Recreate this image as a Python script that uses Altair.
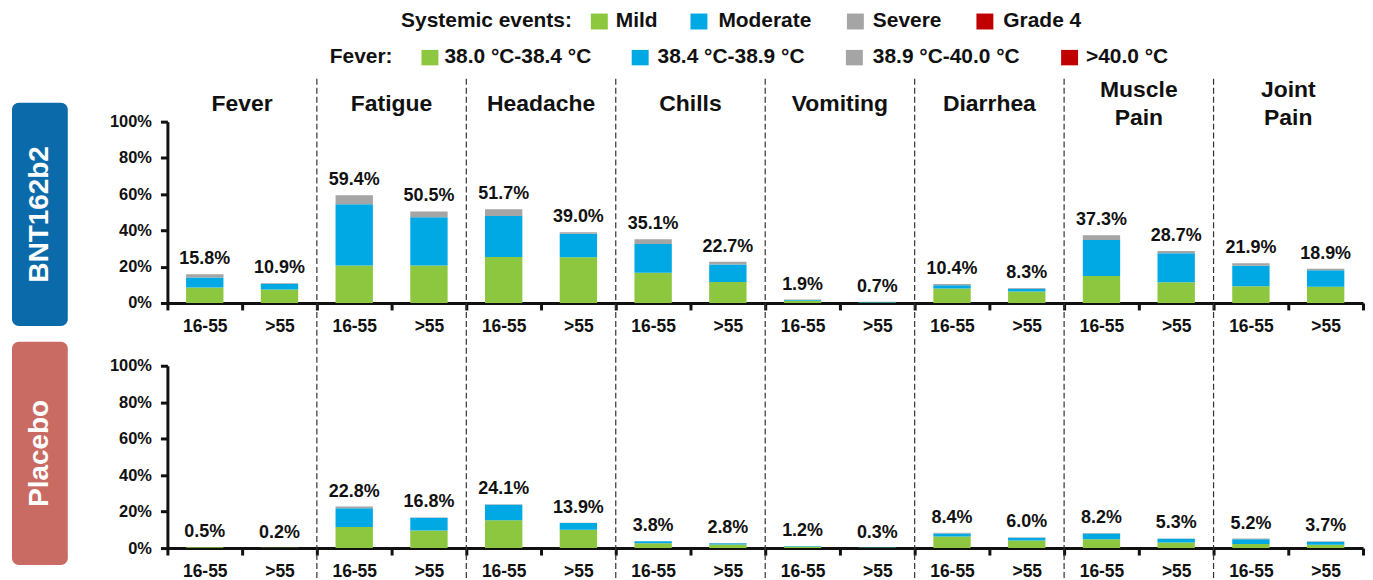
import altair as alt
import pandas as pd

FONT = "Liberation Sans, Arial, Helvetica, sans-serif"

categories = ["Fever", "Fatigue", "Headache", "Chills", "Vomiting", "Diarrhea", "Muscle Pain", "Joint Pain"]
header_text = ["Fever", "Fatigue", "Headache", "Chills", "Vomiting", "Diarrhea", "Muscle\nPain", "Joint\nPain"]
age_groups = ["16-55", ">55"]
severity_levels = ["Mild", "Moderate", "Severe", "Grade 4"]
fever_ranges = ["38.0 °C-38.4 °C", "38.4 °C-38.9 °C", "38.9 °C-40.0 °C", ">40.0 °C"]
severity_colors = ["#8DC63F", "#00A9E4", "#A5A5A5", "#C00000"]
groups = ["BNT162b2", "Placebo"]
group_colors = ["#0B6BAA", "#C96A63"]

# BNT162b2, age 16-55 (percent)
bnt_1655_mild = [8.6, 20.7, 25.3, 16.6, 1.2, 8.0, 14.9, 9.2]
bnt_1655_moderate = [5.4, 33.7, 22.6, 15.9, 0.5, 1.8, 19.8, 11.3]
bnt_1655_severe = [1.8, 5.0, 3.8, 2.6, 0.2, 0.6, 2.6, 1.4]
bnt_1655_grade4 = [0.0, 0.0, 0.0, 0.0, 0.0, 0.0, 0.0, 0.0]
bnt_1655_total = [15.8, 59.4, 51.7, 35.1, 1.9, 10.4, 37.3, 21.9]
# BNT162b2, age >55
bnt_55_mild = [7.4, 20.7, 25.2, 11.6, 0.3, 6.3, 11.4, 8.9]
bnt_55_moderate = [3.1, 26.6, 13.0, 9.6, 0.3, 1.6, 16.0, 9.1]
bnt_55_severe = [0.4, 3.2, 0.8, 1.5, 0.1, 0.4, 1.3, 0.9]
bnt_55_grade4 = [0.0, 0.0, 0.0, 0.0, 0.0, 0.0, 0.0, 0.0]
bnt_55_total = [10.9, 50.5, 39.0, 22.7, 0.7, 8.3, 28.7, 18.9]
# Placebo, age 16-55
pla_1655_mild = [0.4, 11.5, 15.3, 2.6, 0.9, 6.4, 4.9, 2.2]
pla_1655_moderate = [0.1, 10.4, 8.4, 1.1, 0.3, 1.6, 3.1, 2.6]
pla_1655_severe = [0.0, 0.9, 0.4, 0.1, 0.0, 0.4, 0.2, 0.4]
pla_1655_grade4 = [0.0, 0.0, 0.0, 0.0, 0.0, 0.0, 0.0, 0.0]
pla_1655_total = [0.5, 22.8, 24.1, 3.8, 1.2, 8.4, 8.2, 5.2]
# Placebo, age >55
pla_55_mild = [0.2, 9.6, 10.0, 1.9, 0.2, 4.1, 3.1, 1.8]
pla_55_moderate = [0.0, 7.0, 3.7, 0.8, 0.1, 1.5, 2.0, 1.6]
pla_55_severe = [0.0, 0.2, 0.2, 0.1, 0.0, 0.4, 0.2, 0.3]
pla_55_grade4 = [0.0, 0.0, 0.0, 0.0, 0.0, 0.0, 0.0, 0.0]
pla_55_total = [0.2, 16.8, 13.9, 2.8, 0.3, 6.0, 5.3, 3.7]

series = {
    "BNT162b2": {
        "16-55": ([bnt_1655_mild, bnt_1655_moderate, bnt_1655_severe, bnt_1655_grade4], bnt_1655_total),
        ">55": ([bnt_55_mild, bnt_55_moderate, bnt_55_severe, bnt_55_grade4], bnt_55_total),
    },
    "Placebo": {
        "16-55": ([pla_1655_mild, pla_1655_moderate, pla_1655_severe, pla_1655_grade4], pla_1655_total),
        ">55": ([pla_55_mild, pla_55_moderate, pla_55_severe, pla_55_grade4], pla_55_total),
    },
}

slots = [f"{c}|{a}" for c in categories for a in age_groups]

PLOT_W = 1200
BLACK = "#111111"


def bars_df(group):
    rows = []
    for age in age_groups:
        sev_lists, _ = series[group][age]
        for si, sev in enumerate(severity_levels):
            for ci, cat in enumerate(categories):
                rows.append({"slot": f"{cat}|{age}", "severity": sev, "sev_idx": si,
                             "value": sev_lists[si][ci]})
    return pd.DataFrame(rows)


def totals_df(group):
    rows = []
    for age in age_groups:
        _, tot = series[group][age]
        for ci, cat in enumerate(categories):
            rows.append({"slot": f"{cat}|{age}", "total": tot[ci], "label": f"{tot[ci]:.1f}%"})
    return pd.DataFrame(rows)


xscale = alt.Scale(domain=slots, paddingInner=0, paddingOuter=0)
xaxis = alt.Axis(title=None, labelExpr="split(datum.label, '|')[1]", labelAngle=0,
                 tickBand="extent", tickSize=7, tickWidth=3, tickColor=BLACK,
                 domainWidth=3, domainColor=BLACK, labelFontSize=17.5, labelFontWeight="bold",
                 labelColor=BLACK, labelPadding=8, labelFont=FONT)
yscale = alt.Scale(domain=[0, 100], nice=False)
yaxis = alt.Axis(title=None, values=[0, 20, 40, 60, 80, 100], labelExpr="datum.value + '%'",
                 tickSize=7, tickWidth=3, tickColor=BLACK, domainWidth=3, domainColor=BLACK,
                 labelFontSize=16.5, labelFontWeight="bold", labelColor=BLACK, labelPadding=9,
                 labelFont=FONT, grid=False)


def panel(gi, height, rule_top, rule_bottom, box_top, box_bottom, top_panel):
    group = groups[gi]
    layers = []
    bars = alt.Chart(bars_df(group)).mark_bar(width=alt.RelativeBandSize(0.5)).encode(
        x=alt.X("slot:N", scale=xscale, axis=xaxis),
        y=alt.Y("value:Q", stack="zero", scale=yscale, axis=yaxis),
        color=alt.Color("severity:N", scale=alt.Scale(domain=severity_levels, range=severity_colors),
                        legend=None),
        order=alt.Order("sev_idx:Q", sort="ascending"),
    )
    layers.append(bars)
    labels = alt.Chart(totals_df(group)).mark_text(
        dy=-10, baseline="alphabetic", fontSize=18, fontWeight="bold", font=FONT, color=BLACK
    ).encode(
        x=alt.X("slot:N", scale=xscale, axis=xaxis),
        y=alt.Y("total:Q", scale=yscale, axis=yaxis),
        text="label:N",
    )
    layers.append(labels)
    sep = pd.DataFrame({"slot": [f"{c}|{age_groups[0]}" for c in categories[1:]]})
    rules = alt.Chart(sep).mark_rule(strokeDash=[6, 3], strokeWidth=1.2, color="#333333").encode(
        x=alt.X("slot:N", scale=xscale, axis=xaxis, bandPosition=0),
        y=alt.value(rule_top), y2=alt.value(rule_bottom),
    )
    layers.append(rules)
    box_df = pd.DataFrame({"name": [group]})
    box = alt.Chart(box_df).mark_rect(cornerRadius=7, color=group_colors[gi]).encode(
        x=alt.value(-156), x2=alt.value(-100), y=alt.value(box_top), y2=alt.value(box_bottom)
    )
    box_text = alt.Chart(box_df).mark_text(
        angle=270, color="white", fontSize=28, fontWeight="bold", font=FONT, baseline="middle", align="center"
    ).encode(x=alt.value(-128), y=alt.value((box_top + box_bottom) / 2), text="name:N")
    layers += [box, box_text]

    if top_panel:
        head = pd.DataFrame({"slot": [f"{c}|{age_groups[1]}" for c in categories], "h": header_text})
        head["lines"] = head["h"].str.count("\n") + 1
        for nlines, ycen in [(1, -18), (2, -32)]:
            sub = head[head["lines"] == nlines]
            headers = alt.Chart(sub).mark_text(
                fontSize=23, fontWeight="bold", font=FONT, color=BLACK, lineBreak="\n",
                lineHeight=28, baseline="middle"
            ).encode(
                x=alt.X("slot:N", scale=xscale, axis=xaxis, bandPosition=0),
                y=alt.value(ycen), text="h:N",
            )
            layers.append(headers)
        # legend (two rows)
        leg_rows = [
            ("Systemic events:", 406, severity_levels, [425, 525, 682, 812], [450, 553, 708, 839], -101, -108.5, -92.5),
            ("Fever:", 226, fever_ranges, [255, 466, 681, 897], [278, 492, 708, 922], -64.5, -72, -56.5),
        ]
        for title, tx, labs, sqx, lx, yc, sy0, sy1 in leg_rows:
            tdf = pd.DataFrame({"t": [title]})
            layers.append(alt.Chart(tdf).mark_text(
                align="right", baseline="middle", fontSize=21, fontWeight="bold", font=FONT, color=BLACK
            ).encode(x=alt.value(tx), y=alt.value(yc), text="t:N"))
            for k, lab in enumerate(labs):
                ldf = pd.DataFrame({"t": [lab]})
                layers.append(alt.Chart(ldf).mark_rect(color=severity_colors[k]).encode(
                    x=alt.value(sqx[k]), x2=alt.value(sqx[k] + 17), y=alt.value(sy0), y2=alt.value(sy1)))
                layers.append(alt.Chart(ldf).mark_text(
                    align="left", baseline="middle", fontSize=21, fontWeight="bold", font=FONT, color=BLACK
                ).encode(x=alt.value(lx[k]), y=alt.value(yc), text="t:N"))
        anchor = alt.Chart(pd.DataFrame({"a": [0]})).mark_rect(color="white").encode(
            x=alt.value(-156), x2=alt.value(-152), y=alt.value(-113), y2=alt.value(-111))
        layers.append(anchor)

    return alt.layer(*layers).properties(width=PLOT_W, height=height)


top = panel(0, 182, -43, 245, -19, 205, True)
bottom = panel(1, 183, 0, 214, -24, 200, False)

chart = alt.vconcat(top, bottom, spacing=63, bounds="flush").properties(
    padding={"left": 4, "top": 0, "right": 0, "bottom": 0}
).configure_view(stroke=None).configure_axis(labelFont=FONT)

chart.save("out.html", embed_options={"renderer": "svg", "actions": False})
